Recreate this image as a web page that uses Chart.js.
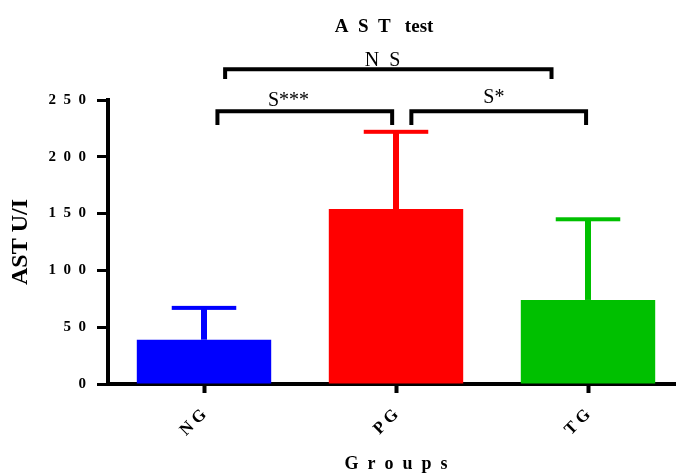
<!DOCTYPE html>
<html>
<head>
<meta charset="utf-8">
<script src="https://cdn.jsdelivr.net/npm/chart.js@4"></script>
<style>
  html, body { margin: 0; padding: 0; background: #fff; overflow: hidden; }
  #wrap { width: 676px; height: 473px; overflow: hidden; }
</style>
</head>
<body>
<div id="wrap"><canvas id="myChart" width="720" height="473"></canvas></div>
<script>
// data
const groups = ['NG', 'PG', 'TG'];
const astMeans = [39, 154, 74];
const astUpper = [67, 222, 145];   // top of each error bar
const barColors = ['#0000ff', '#ff0000', '#00c000'];
const yTicks = [0, 50, 100, 150, 200, 250];

// significance brackets (x in group index units, y in U/l)
const brackets = [
    { from: 0.11, to: 1.81, top: 277, foot: 268.5, text: 'N\u2002S', textX: 0.93, textY: 280 },
    { from: 0.07, to: 0.98, top: 240, foot: 228, text: 'S***', textX: 0.44, textY: 244.5 },
    { from: 1.08, to: 1.99, top: 240, foot: 228, text: 'S*', textX: 1.51, textY: 247.5 }
];

const spaced = (s, gap) => String(s).split('').join(gap || '\u2002');
const serif = '"Liberation Serif", "Times New Roman", serif';

const extras = {
    id: 'extras',
    afterDatasetsDraw(chart) {
        const ctx = chart.ctx;
        const y = chart.scales.y;
        const meta = chart.getDatasetMeta(0);
        ctx.save();
        meta.data.forEach((bar, i) => {
            const top = y.getPixelForValue(astUpper[i]);
            const half = bar.width * 0.24;
            ctx.fillStyle = barColors[i];
            ctx.fillRect(bar.x - 3, top, 6, bar.y - top);
            ctx.fillRect(bar.x - half, top - 2, half * 2, 4);
        });
        ctx.restore();
    },
    afterDraw(chart) {
        const ctx = chart.ctx;
        const x = chart.scales.x, y = chart.scales.y;
        ctx.save();
        ctx.strokeStyle = '#000';
        ctx.lineWidth = 4;
        brackets.forEach(b => {
            const x1 = x.getPixelForValue(b.from), x2 = x.getPixelForValue(b.to);
            const yt = y.getPixelForValue(b.top), yf = y.getPixelForValue(b.foot);
            ctx.beginPath();
            ctx.moveTo(x1, yf);
            ctx.lineTo(x1, yt);
            ctx.lineTo(x2, yt);
            ctx.lineTo(x2, yf);
            ctx.stroke();
            ctx.fillStyle = '#000';
            ctx.font = '20px ' + serif;
            ctx.textAlign = 'center';
            ctx.textBaseline = 'alphabetic';
            ctx.fillText(b.text, x.getPixelForValue(b.textX), y.getPixelForValue(b.textY));
        });
        // chart title
        ctx.font = 'bold 19px ' + serif;
        ctx.fillText('A\u2002S\u2002T\u2002 test', 384, 32);
        ctx.restore();
    }
};

const ctx = document.getElementById('myChart').getContext('2d');
new Chart(ctx, {
    type: 'bar',
    data: {
        labels: groups,
        datasets: [{
            label: 'AST',
            data: astMeans,
            backgroundColor: barColors,
            borderWidth: 0,
            barPercentage: 0.7,
            categoryPercentage: 1.0
        }]
    },
    options: {
        responsive: false,
        animation: false,
        layout: { padding: { top: 100, right: 36, left: 0, bottom: 0 } },
        plugins: {
            legend: { display: false },
            tooltip: { enabled: false }
        },
        scales: {
            x: {
                grid: { offset: false, drawOnChartArea: false, drawTicks: true, tickLength: 9, tickWidth: 4, tickColor: '#000' },
                border: { color: '#000', width: 4 },
                ticks: {
                    color: '#000',
                    minRotation: 45,
                    maxRotation: 45,
                    padding: 12,
                    font: { family: serif, size: 17, weight: 'bold' },
                    callback: function (v) { return spaced(this.getLabelForValue(v), ' '); }
                },
                title: {
                    display: true,
                    text: spaced('Groups'),
                    color: '#000',
                    padding: 0,
                    font: { family: serif, size: 18, weight: 'bold', lineHeight: 1 }
                },
                afterFit(scale) { scale.height = 89; }
            },
            y: {
                min: 0,
                max: 250,
                afterBuildTicks(scale) { scale.ticks = yTicks.map(v => ({ value: v })); },
                grid: { drawOnChartArea: false, drawTicks: true, tickLength: 11, tickWidth: 3, tickColor: '#000' },
                border: { color: '#000', width: 4 },
                ticks: {
                    color: '#000',
                    padding: 11,
                    font: { family: serif, size: 15, weight: 'bold' },
                    callback: v => spaced(v)
                },
                title: {
                    display: true,
                    text: 'AST U/I',
                    color: '#000',
                    padding: { top: 9, bottom: 9 },
                    font: { family: serif, size: 24, weight: 'bold', lineHeight: 1 }
                },
                afterFit(scale) { scale.width = 108; }
            }
        }
    },
    plugins: [extras]
});
</script>
</body>
</html>
